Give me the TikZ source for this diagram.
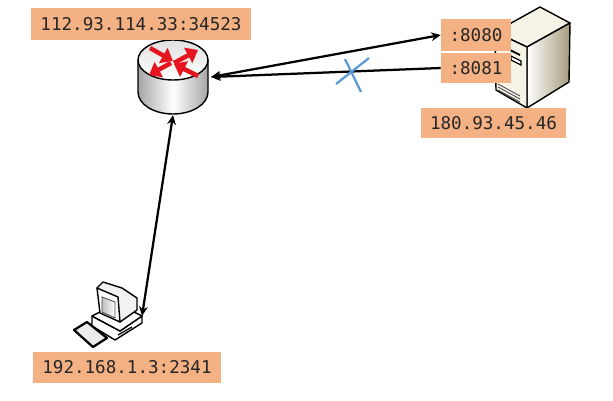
\documentclass[tikz,border=0pt]{standalone}
\usepackage{fontspec}
\setmonofont{DejaVu Sans Mono}
\usetikzlibrary{arrows.meta,calc}
\definecolor{labelfill}{RGB}{244,177,131}
\definecolor{crossblue}{RGB}{91,155,213}
\definecolor{routerred}{RGB}{230,20,30}
\definecolor{servercream}{RGB}{245,242,230}
\definecolor{servertan}{RGB}{165,155,125}
\tikzset{
  addrlabel/.style={
    fill=labelfill,
    inner sep=0pt,
    text=black!85,
    font=\ttfamily\fontsize{12.5}{14}\selectfont
  },
  linkline/.style={
    draw=black,
    line width=1.6pt,
    {Stealth[length=2.4mm,width=2.2mm]}-{Stealth[length=2.4mm,width=2.2mm]}
  },
  blockedline/.style={
    draw=black,
    line width=1.6pt,
    {Stealth[length=2.4mm,width=2.2mm]}-
  },
  routerarrow/.style={
    draw=routerred,
    line width=3.2pt,
    -{Triangle[length=2.8mm,width=4.2mm]}
  },
  iconline/.style={
    draw=black,
    line width=1.0pt,
    line join=round
  },
  crossline/.style={
    draw=crossblue,
    line width=1.6pt
  }
}

\begin{document}
\begin{tikzpicture}[x=0.025cm,y=-0.025cm]
  \useasboundingbox (0,0) rectangle (613,401);

  % Router body.
  \draw[iconline,left color=black!35,right color=black!35,middle color=white]
    (138,60) -- (138,92) arc[start angle=180,end angle=0,x radius=35,y radius=22]
    -- (208,60) -- cycle;
  \draw[iconline,top color=black!12,bottom color=white]
    (173,60) ellipse[x radius=35,y radius=20];

  % Four arrows on the router top.
  \draw[routerarrow] (150,48) -- (173,61);
  \draw[routerarrow] (174,63) -- (198,50);
  \draw[routerarrow] (171,63) -- (149,75);
  \draw[routerarrow] (198,76) -- (174,64);

  % Server tower.
  \draw[iconline,fill=servercream]
    (495,32) -- (540,7) -- (570,23) -- (527,47) -- cycle;
  \draw[iconline,left color=white,right color=servertan]
    (527,47) -- (570,23) -- (569,82) -- (527,108) -- cycle;
  \draw[iconline,fill=servercream]
    (495,32) -- (527,47) -- (527,108) -- (496,90) -- cycle;
  \draw[black,line width=1.4pt] (510,50) -- (520,55);
  \draw[black,line width=0.9pt,fill=white] (511,56) -- (521,61) -- (521,65) -- (511,60) -- cycle;
  \draw[black!70,line width=0.6pt]
    (498,84) -- (520,96) (498,87) -- (520,99) (498,90) -- (520,102);

  % Desktop computer.
  \draw[iconline,fill=white]
    (92,316) -- (120,331) -- (142,316) -- (142,323) -- (115,340) -- (92,326) -- cycle;
  \draw[iconline,fill=white]
    (92,316) -- (100,312) -- (130,310) -- (142,316) -- (120,331) -- cycle;
  \draw[iconline,fill=black!5]
    (97,288) -- (103,282) -- (122,288) -- (137,298) -- (137,310) -- (120,322) -- cycle;
  \draw[iconline,fill=white]
    (97,288) -- (118,297) -- (120,322) -- (100,313) -- cycle;
  \draw[draw=black!70,line width=0.6pt,left color=black!25,right color=white]
    (102,297) -- (115,302) -- (115,318) -- (102,312) -- cycle;
  \draw[black,line width=0.9pt] (118,335) -- (132,327);
  \draw[black,line width=1.6pt,fill=black!8,line join=round]
    (74,330) -- (87,322) -- (107,338) -- (93,347) -- cycle;

  % Address labels.
  \node[addrlabel,minimum width=220*0.025cm,minimum height=32*0.025cm] (routeraddr) at (141,24) {112.93.114.33:34523};
  \node[addrlabel,minimum width=70*0.025cm,minimum height=32*0.025cm] (portA) at (476,35) {:8080};
  \node[addrlabel,minimum width=70*0.025cm,minimum height=30*0.025cm] (portB) at (476,68) {:8081};
  \node[addrlabel,minimum width=145*0.025cm,minimum height=30*0.025cm] (serveraddr) at (493.5,123) {180.93.45.46};
  \node[addrlabel,minimum width=188*0.025cm,minimum height=31*0.025cm] (pcaddr) at (127,367.5) {192.168.1.3:2341};

  % Connection end points and links.
  \coordinate (routerR) at (211,77);
  \coordinate (routerB) at (173,115);
  \coordinate (pcT) at (142,316);
  \draw[linkline] (routerR) -- (portA.west);
  \draw[blockedline] (routerR) -- (portB.west);
  \draw[linkline] (routerB) -- (pcT);

  % Blocked connection mark.
  \coordinate (crossA) at (336,84);
  \coordinate (crossB) at (369,58);
  \coordinate (crossC) at (345,59);
  \coordinate (crossD) at (361,92);
  \draw[crossline] (crossA) -- (crossB);
  \draw[crossline] (crossC) -- (crossD);
\end{tikzpicture}
\end{document}
